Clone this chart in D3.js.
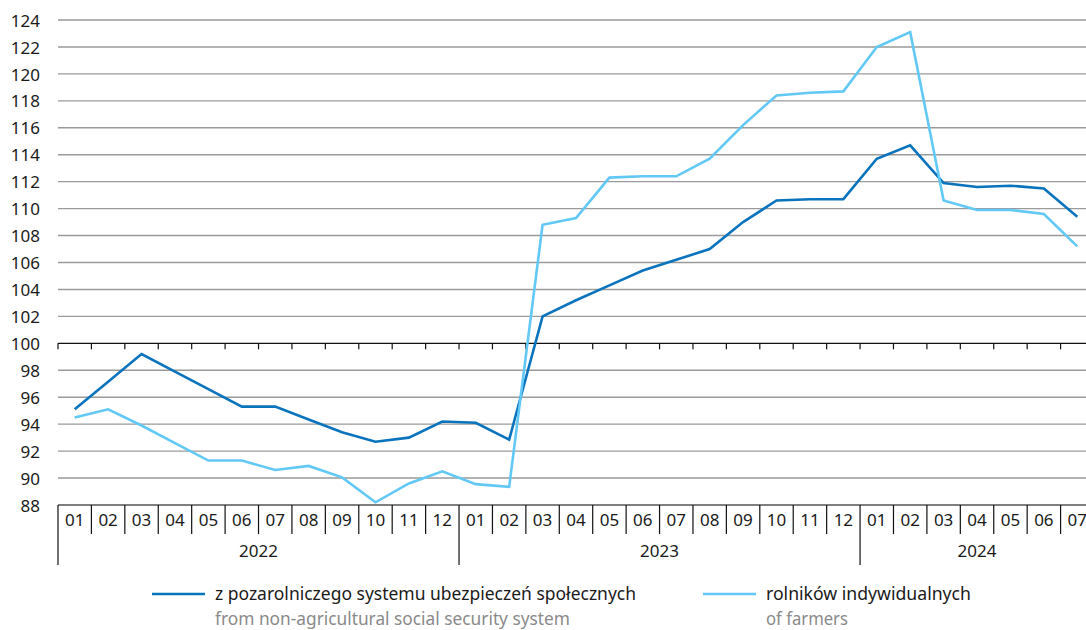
<!DOCTYPE html>
<html>
<head>
<meta charset="utf-8">
<script src="https://cdn.jsdelivr.net/npm/d3@7"></script>
<style>
  body { margin: 0; background: #fff; }
  text { font-family: "Noto Sans", sans-serif; fill: #1a1a1a; }
</style>
</head>
<body>
<script>
// data
var months = ["01","02","03","04","05","06","07","08","09","10","11","12",
              "01","02","03","04","05","06","07","08","09","10","11","12",
              "01","02","03","04","05","06","07"];
var years = ["2022", "2023", "2024"];
var yearStart = [0, 12, 24];
var yTicks = [88,90,92,94,96,98,100,102,104,106,108,110,112,114,116,118,120,122,124];

var nonAgri = [95.1, 97.15, 99.2, 97.9, 96.6, 95.3, 95.3, 94.35, 93.4, 92.7, 93.0, 94.2,
               94.1, 92.85, 102.0, 103.2, 104.3, 105.4, 106.2, 107.0, 109.0, 110.6, 110.7, 110.7,
               113.7, 114.7, 111.9, 111.6, 111.7, 111.5, 109.4];
var farmers = [94.5, 95.1, 93.9, 92.6, 91.3, 91.3, 90.6, 90.9, 90.05, 88.2, 89.6, 90.5,
               89.55, 89.35, 108.8, 109.3, 112.3, 112.4, 112.4, 113.7, 116.2, 118.4, 118.6, 118.7,
               122.0, 123.1, 110.6, 109.9, 109.9, 109.6, 107.2];

var legendPl = ["z pozarolniczego systemu ubezpieczeń społecznych", "rolników indywidualnych"];
var legendEn = ["from non-agricultural social security system", "of farmers"];
var colors = ["#0a73bd", "#62c8f5"];

// plot area (note: "top" is reserved on window, so use a margin object)
// the last month column runs slightly past the right edge of the picture
var plot = {left: 58, right: 1094, top: 20, bottom: 505};

var svg = d3.select("body").append("svg")
    .attr("width", 1086)
    .attr("height", 630);

var x = d3.scaleBand().domain(d3.range(months.length)).range([plot.left, plot.right]);
var y = d3.scaleLinear().domain([88, 124]).range([plot.bottom, plot.top]);
var bw = x.bandwidth();

// gridlines
svg.append("g")
  .selectAll("line")
  .data(yTicks.filter(function(d) { return d > 88 && d != 100; }))
  .enter().append("line")
    .attr("x1", plot.left).attr("x2", plot.right)
    .attr("y1", function(d) { return y(d); })
    .attr("y2", function(d) { return y(d); })
    .attr("stroke", "#9a9a9a")
    .attr("stroke-width", 1.4);

// y labels
var yAxis = svg.append("g")
    .attr("transform", "translate(40,0)")
    .call(d3.axisLeft(y).tickValues(yTicks).tickSize(0).tickPadding(0));
yAxis.select(".domain").remove();
yAxis.selectAll("text")
    .style("font-family", "'Noto Sans', sans-serif")
    .style("font-size", "17px")
    .attr("fill", "#1a1a1a")
    .attr("dy", "0.36em");

// axis line at 100 with ticks at band borders
svg.append("line")
    .attr("x1", plot.left).attr("x2", plot.right)
    .attr("y1", y(100)).attr("y2", y(100))
    .attr("stroke", "#111").attr("stroke-width", 1.4);
svg.append("g")
  .selectAll("line")
  .data(d3.range(months.length))
  .enter().append("line")
    .attr("x1", function(d) { return x(d); })
    .attr("x2", function(d) { return x(d); })
    .attr("y1", y(100)).attr("y2", y(100) + 6)
    .attr("stroke", "#111").attr("stroke-width", 1.2);

// category table at the bottom
svg.append("line")
    .attr("x1", plot.left).attr("x2", plot.right)
    .attr("y1", plot.bottom).attr("y2", plot.bottom)
    .attr("stroke", "#555").attr("stroke-width", 1.3);
svg.append("g")
  .selectAll("line")
  .data(d3.range(months.length))
  .enter().append("line")
    .attr("x1", function(d) { return x(d); })
    .attr("x2", function(d) { return x(d); })
    .attr("y1", plot.bottom)
    .attr("y2", function(d) { return yearStart.indexOf(d) >= 0 ? 565 : 534; })
    .attr("stroke", "#111").attr("stroke-width", 1.2);

svg.append("g")
  .selectAll("text")
  .data(months)
  .enter().append("text")
    .attr("x", function(d, i) { return x(i) + bw / 2; })
    .attr("y", 526)
    .attr("text-anchor", "middle")
    .style("font-size", "17px")
    .text(function(d) { return d; });

svg.append("g")
  .selectAll("text")
  .data(years)
  .enter().append("text")
    .attr("x", function(d, i) {
      var s = yearStart[i], e = i < years.length - 1 ? yearStart[i + 1] : months.length;
      return (x(s) + x(e - 1) + bw) / 2;
    })
    .attr("y", 557)
    .attr("text-anchor", "middle")
    .style("font-size", "17px")
    .text(function(d) { return d; });

// lines
var line = d3.line()
    .x(function(d, i) { return x(i) + bw / 2; })
    .y(function(d) { return y(d); });

[nonAgri, farmers].forEach(function(s, k) {
  svg.append("path")
      .datum(s)
      .attr("d", line)
      .attr("fill", "none")
      .attr("stroke", colors[k])
      .attr("stroke-width", 2.6)
      .attr("stroke-linejoin", "miter");
});

// legend
var legX = [152, 703];
var plLen = [421, 205];
var enLen = [355, 82];
legendPl.forEach(function(t, k) {
  svg.append("line")
      .attr("x1", legX[k]).attr("x2", legX[k] + 53)
      .attr("y1", 594).attr("y2", 594)
      .attr("stroke", colors[k]).attr("stroke-width", 2.6);
  svg.append("text")
      .attr("x", legX[k] + 63).attr("y", 600)
      .attr("textLength", plLen[k])
      .attr("lengthAdjust", "spacingAndGlyphs")
      .style("font-size", "18px")
      .text(t);
  svg.append("text")
      .attr("x", legX[k] + 63).attr("y", 625)
      .attr("textLength", enLen[k])
      .attr("lengthAdjust", "spacingAndGlyphs")
      .style("font-size", "18px")
      .style("fill", "#8a8a8a")
      .text(legendEn[k]);
});
</script>
</body>
</html>
